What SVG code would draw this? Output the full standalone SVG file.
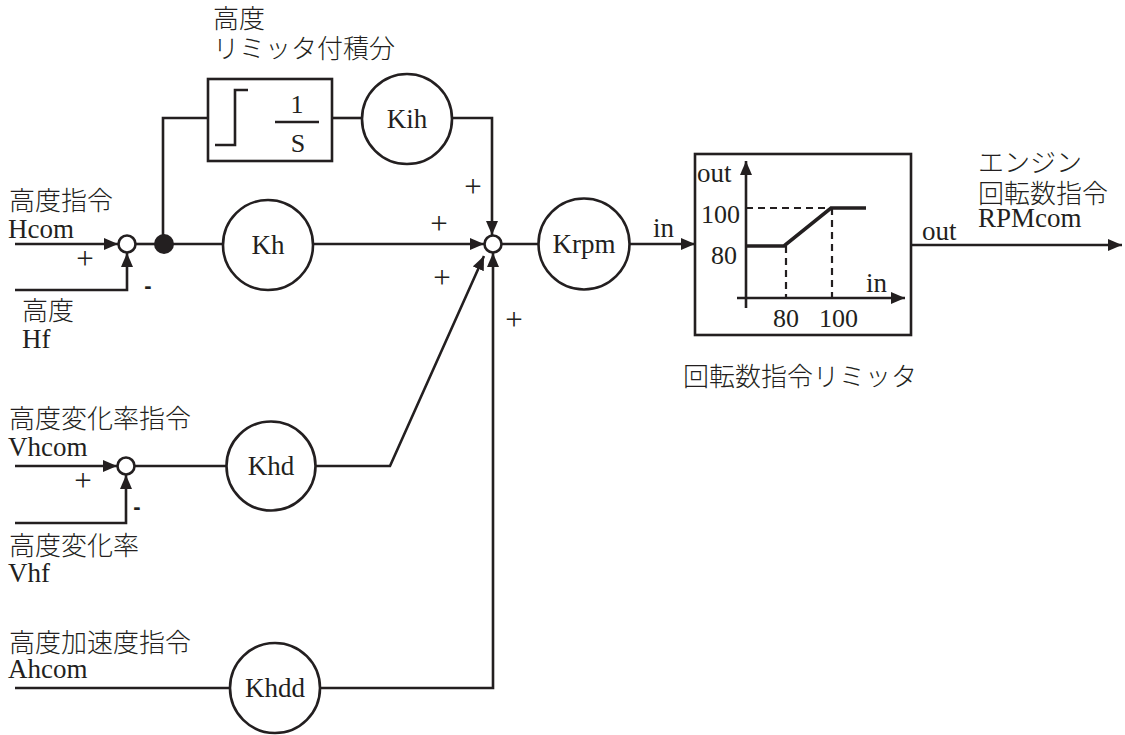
<svg xmlns="http://www.w3.org/2000/svg" width="1125" height="735" viewBox="0 0 1125 735">
<style>
.t{font-family:"Liberation Serif","Noto Sans CJK JP",serif;font-size:27px;fill:#231f20}
.j{font-family:"Liberation Serif","Noto Sans CJK JP",serif;font-size:26px;fill:#231f20;font-weight:300}
.n{font-family:"Liberation Serif",serif;font-size:26px;fill:#231f20}
.p{font-family:"Liberation Serif",serif;font-size:26px;fill:#231f20;text-anchor:middle}
.q{font-family:"Liberation Serif",serif;font-size:31px;fill:#231f20;text-anchor:middle}
.m{font-family:"Liberation Sans",sans-serif;font-size:22px;font-weight:bold;fill:#231f20;text-anchor:middle}
.ln{fill:none;stroke:#231f20;stroke-width:2.6}
.ar{fill:none;stroke:#231f20;stroke-width:2.6;marker-end:url(#ah)}
.c{fill:#fff;stroke:#231f20;stroke-width:2.6}
.d{fill:none;stroke:#231f20;stroke-width:2.2;stroke-dasharray:7,5}
</style>
<defs>
<marker id="ah" markerUnits="userSpaceOnUse" markerWidth="15" markerHeight="12" refX="14" refY="6" orient="auto">
<path d="M0,0 L14,6 L0,12 z" fill="#231f20"/>
</marker>
</defs>
<rect width="1125" height="735" fill="#fff"/>

<g id="connectors">
<line class="ar" x1="15" y1="244" x2="118" y2="244"/>
<polyline class="ar" points="15,290 127,290 127,253"/>
<line class="ln" x1="136" y1="244" x2="163" y2="244"/>
<line class="ln" x1="163" y1="244" x2="223" y2="244"/>
<polyline class="ln" points="163,244 163,118 208,118"/>
<line class="ln" x1="332" y1="118" x2="362" y2="118"/>
<polyline class="ar" points="452,118 492,118 492,235"/>
<line class="ar" x1="313" y1="244" x2="484" y2="244"/>
<polyline class="ar" points="315,466 390,466 484,256"/>
<polyline class="ar" points="320,688 493,688 493,253"/>
<line class="ln" x1="502" y1="244" x2="539" y2="244"/>
<line class="ar" x1="629" y1="244" x2="695" y2="244"/>
<line class="ar" x1="911" y1="245" x2="1122" y2="245"/>
<line class="ar" x1="15" y1="466" x2="117" y2="466"/>
<polyline class="ar" points="15,523 126,523 126,475"/>
<line class="ln" x1="135" y1="466" x2="227" y2="466"/>
<line class="ln" x1="15" y1="688" x2="230" y2="688"/>
</g>

<g id="sum1"><circle class="c" cx="127" cy="244" r="8.5"/></g>
<g id="branch"><circle cx="164" cy="244" r="10" fill="#231f20"/></g>
<g id="sum2"><circle class="c" cx="493" cy="244" r="8.5"/></g>
<g id="sum3"><circle class="c" cx="126" cy="466" r="8.5"/></g>

<g id="limint">
<rect class="ln" x="208" y="79" width="124" height="82"/>
<polyline class="ln" points="215,145 235,145 235,90 248,90"/>
<line class="ln" x1="275" y1="122" x2="319" y2="122"/>
<text class="p" x="297" y="113">1</text>
<text class="p" x="298" y="152">S</text>
</g>

<g id="kih"><circle class="c" cx="407" cy="119" r="45"/><text class="p" x="407" y="128" style="font-size:27px">Kih</text></g>
<g id="kh"><circle class="c" cx="268" cy="245" r="45"/><text class="p" x="268" y="254" style="font-size:27px">Kh</text></g>
<g id="khd"><circle class="c" cx="271" cy="466" r="44.5"/><text class="p" x="271" y="475" style="font-size:27px">Khd</text></g>
<g id="khdd"><circle class="c" cx="275" cy="688" r="45"/><text class="p" x="275" y="697" style="font-size:27px">Khdd</text></g>
<g id="krpm"><circle class="c" cx="584" cy="244" r="45.5"/><text class="p" x="584" y="253" style="font-size:27px">Krpm</text></g>

<g id="rpmlimiter">
<rect class="ln" x="695" y="154" width="216" height="181"/>
<line class="ar" x1="746" y1="308" x2="746" y2="161"/>
<line class="ar" x1="737" y1="298" x2="905" y2="298"/>
<line class="d" x1="746" y1="208" x2="831" y2="208"/>
<line class="d" x1="786" y1="246" x2="786" y2="298"/>
<line class="d" x1="832" y1="208" x2="832" y2="298"/>
<polyline points="747,246 784,246 831,208 866,208" fill="none" stroke="#231f20" stroke-width="3.6"/>
<text class="t" x="697" y="182">out</text>
<text class="n" x="701" y="223">100</text>
<text class="n" x="711" y="264">80</text>
<text class="t" x="866" y="292">in</text>
<text class="n" x="773" y="327">80</text>
<text class="n" x="819" y="327">100</text>
</g>

<g id="labels">
<text class="j" x="213" y="28">高度</text>
<text class="j" x="213" y="58">リミッタ付積分</text>
<text class="j" x="9" y="210">高度指令</text>
<text class="t" x="8" y="238">Hcom</text>
<text class="j" x="22" y="320">高度</text>
<text class="t" x="22" y="348">Hf</text>
<text class="j" x="9" y="428">高度変化率指令</text>
<text class="t" x="8" y="456">Vhcom</text>
<text class="j" x="9" y="555">高度変化率</text>
<text class="t" x="8" y="582">Vhf</text>
<text class="j" x="9" y="652">高度加速度指令</text>
<text class="t" x="8" y="678">Ahcom</text>
<text class="t" x="653" y="237">in</text>
<text class="t" x="922" y="240">out</text>
<text class="j" x="978" y="172">エンジン</text>
<text class="j" x="978" y="203">回転数指令</text>
<text class="t" x="978" y="227">RPMcom</text>
<text class="j" x="683" y="386">回転数指令リミッタ</text>
<text class="q" x="85" y="269">+</text>
<text class="q" x="473" y="197">+</text>
<text class="q" x="439" y="234">+</text>
<text class="q" x="442" y="288">+</text>
<text class="q" x="514" y="330">+</text>
<text class="q" x="83" y="491">+</text>
<text class="m" x="148" y="293">-</text>
<text class="m" x="137" y="514">-</text>
</g>
</svg>
